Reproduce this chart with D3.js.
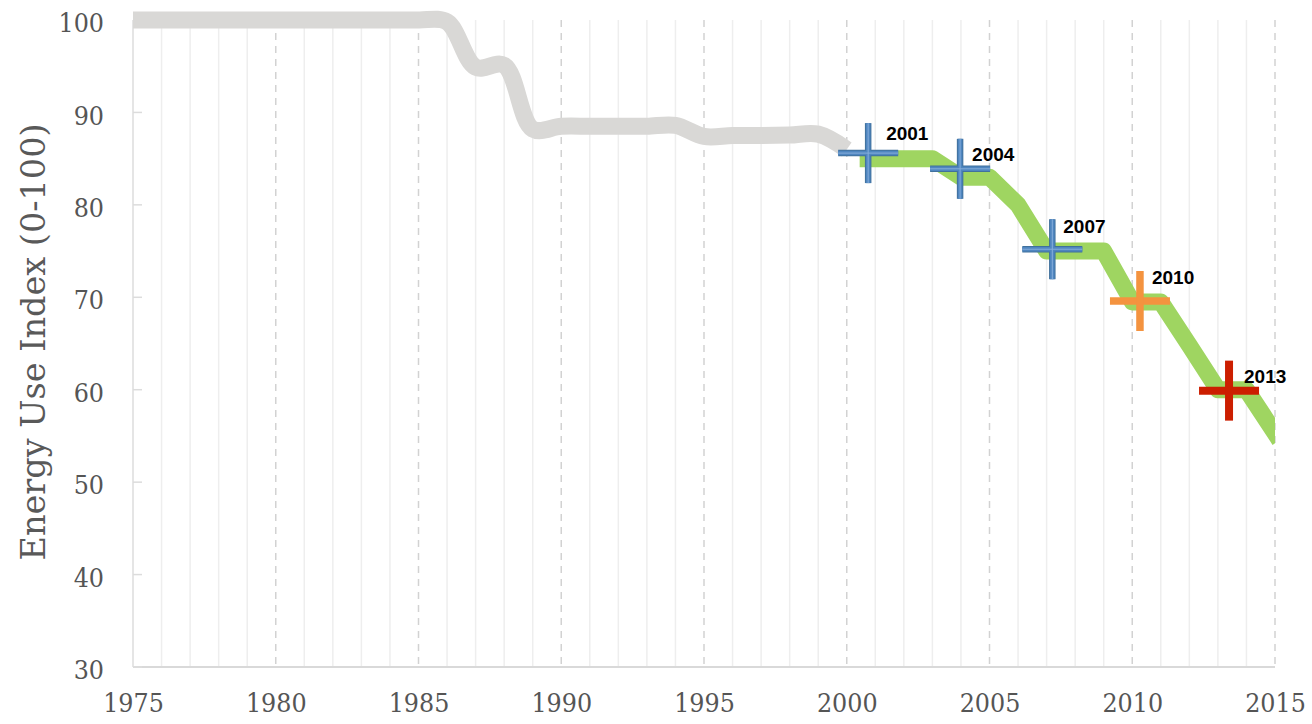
<!DOCTYPE html>
<html>
<head>
<meta charset="utf-8">
<script src="https://cdn.jsdelivr.net/npm/d3@7"></script>
<style>
  html, body { margin: 0; padding: 0; background: #fff; }
  svg { display: block; }
  .num { font-family: "DejaVu Serif Condensed", "DejaVu Serif", serif; font-stretch: condensed; fill: #555555; }
  .ttl { font-family: "DejaVu Serif", serif; fill: #595959; }
  .lbl { font-family: "Liberation Sans", Arial, sans-serif; font-weight: bold; fill: #000; }
</style>
</head>
<body>
<svg id="chart" width="1312" height="724"></svg>
<script>
// ---- data ----
const grayYears  = [1975,1976,1977,1978,1979,1980,1981,1982,1983,1984,1985,1986,1987,1988,1989,1990,1991,1992,1993,1994,1995,1996,1997,1998,1999,2000];
const grayValues = [100,100,100,100,100,100,100,100,100,100,100,99.8,94.9,95.1,88.2,88.5,88.5,88.5,88.5,88.6,87.4,87.5,87.5,87.55,87.65,86.0];

const greenYears  = [2000.75,2003,2004,2005,2006,2007,2009,2010,2011,2012,2013,2014,2015];
const greenValues = [85.0,85.0,83.0,83.0,80.0,75.0,75.0,69.5,69.5,64.8,60.0,60.0,55.3];

const markerYears  = [2000.75,2003.97,2007.2,2010.27,2013.39];
const markerValues = [85.6,83.9,75.2,69.6,59.9];
const markerLabels = ["2001","2004","2007","2010","2013"];
const markerKinds  = ["blue","blue","blue","orange","red"];

const xTickValues = [1975,1980,1985,1990,1995,2000,2005,2010,2015];
const yTickValues = [30,40,50,60,70,80,90,100];
const yTitle = "Energy Use Index (0-100)";

// ---- layout ----
const svg = d3.select("#chart");
const pL = 133, pR = 1275, pT = 20, pB = 667;
const x = d3.scaleLinear().domain([1975, 2015]).range([pL, pR]);
const y = d3.scaleLinear().domain([30, 100]).range([pB, pT]);

// vertical grid lines (every year; dashed every 5 years)
const years = d3.range(1976, 2016);
svg.append("g").selectAll("line").data(years).join("line")
  .attr("x1", d => x(d)).attr("x2", d => x(d))
  .attr("y1", pT).attr("y2", pB)
  .attr("stroke", d => d % 5 === 0 ? "#d2d2d2" : "#eeeeee")
  .attr("stroke-width", 1.5)
  .attr("stroke-dasharray", d => d % 5 === 0 ? "7,6" : null);

// axes lines
svg.append("line").attr("x1", pL).attr("x2", pL).attr("y1", pT).attr("y2", pB)
  .attr("stroke", "#dcdcdc").attr("stroke-width", 1.5);
svg.append("line").attr("x1", pL).attr("x2", pR).attr("y1", pB).attr("y2", pB)
  .attr("stroke", "#d9d9d9").attr("stroke-width", 2);

// small inner y ticks
svg.append("g").selectAll("line").data(yTickValues).join("line")
  .attr("x1", pL).attr("x2", pL + 9)
  .attr("y1", d => y(d)).attr("y2", d => y(d))
  .attr("stroke", "#dcdcdc").attr("stroke-width", 1.5);

// y axis labels
const yAxis = d3.axisLeft(y).tickValues(yTickValues).tickSize(0).tickPadding(29).tickFormat(d3.format("d"));
const gy = svg.append("g").attr("transform", `translate(${pL},0)`).call(yAxis);
gy.select(".domain").remove();
gy.selectAll("text").attr("class", "num").attr("font-size", 26.5).attr("dy", "0.44em");

// x axis labels
const xAxis = d3.axisBottom(x).tickValues(xTickValues).tickSize(0).tickPadding(26).tickFormat(d3.format("d"));
const gx = svg.append("g").attr("transform", `translate(0,${pB})`).call(xAxis);
gx.select(".domain").remove();
gx.selectAll("text").attr("class", "num").attr("font-size", 26.5);

// y title
svg.append("text").attr("class", "ttl")
  .attr("transform", "translate(45,342) rotate(-90)")
  .attr("text-anchor", "middle")
  .attr("font-size", 33.5)
  .text(yTitle);

// clip for lines
svg.append("clipPath").attr("id", "plotclip").append("rect")
  .attr("x", pL).attr("y", 0).attr("width", pR - pL).attr("height", pB);

// gray smoothed line
const grayLine = d3.line().x(d => x(d[0])).y(d => y(d[1])).curve(d3.curveCatmullRom.alpha(0.5));
svg.append("path")
  .datum(d3.zip(grayYears, grayValues))
  .attr("d", grayLine)
  .attr("fill", "none").attr("stroke", "#d9d8d6").attr("stroke-width", 17)
  .attr("stroke-linejoin", "round");

// green line
const greenLine = d3.line().x(d => x(d[0])).y(d => y(d[1]));
svg.append("path")
  .datum(d3.zip(greenYears, greenValues))
  .attr("d", greenLine)
  .attr("clip-path", "url(#plotclip)")
  .attr("fill", "none").attr("stroke", "#9fd561").attr("stroke-width", 17)
  .attr("stroke-linejoin", "round").attr("stroke-linecap", "square");

// markers
const half = 30;
const labelNudge = [[18, -13], [12, -8], [11, -16], [12, -17], [15, -8]];
const markers = d3.zip(markerYears, markerValues, markerLabels, markerKinds);
const mg = svg.append("g");
markers.forEach((m, i) => {
  const cx = x(m[0]), cy = y(m[1]);
  const g = mg.append("g");
  const segs = [[cx - half, cy, cx + half, cy], [cx, cy - half, cx, cy + half]];
  const layers = m[3] === "blue"
    ? [["#41719c", 6.5], ["#4f86c0", 4.5], ["#86aedb", 1]]
    : m[3] === "orange" ? [["#f4933f", 7.5]] : [["#cc1e00", 8]];
  layers.forEach(([col, w]) => {
    segs.forEach(s => {
      g.append("line").attr("x1", s[0]).attr("y1", s[1]).attr("x2", s[2]).attr("y2", s[3])
        .attr("stroke", col).attr("stroke-width", w);
    });
  });
  svg.append("text").attr("class", "lbl").attr("font-size", 19)
    .attr("x", cx + labelNudge[i][0]).attr("y", cy + labelNudge[i][1])
    .text(m[2]);
});
</script>
</body>
</html>
